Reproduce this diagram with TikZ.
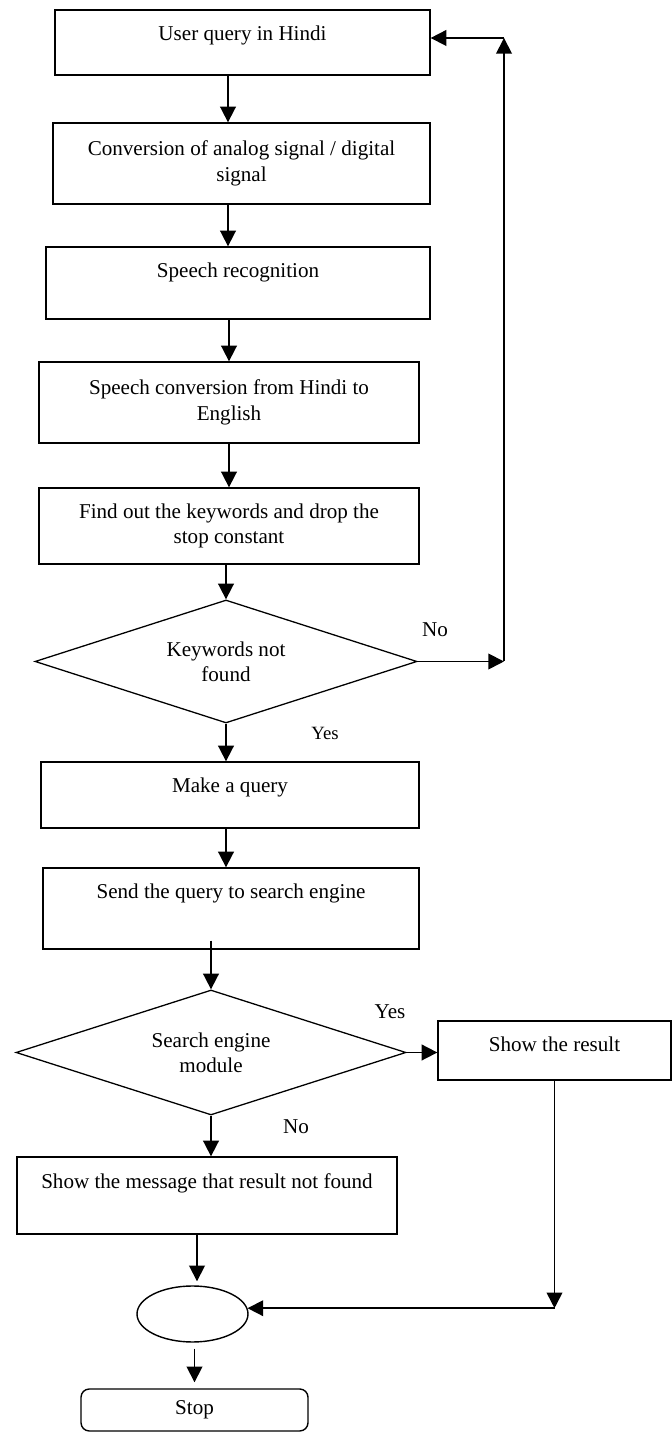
\documentclass[tikz,border=0pt]{standalone}
\usepackage{fontspec}
\setmainfont{Liberation Serif}
\usetikzlibrary{arrows.meta,positioning,shapes.geometric}

\begin{document}
\begin{tikzpicture}[
  x=1cm,y=1cm,
  font=\fontsize{18}{21.6}\selectfont,
  flow/.style={-{Triangle[length=0.47cm,width=0.47cm]},draw=black,line width=1.5pt},
  procbox/.style={draw=black,line width=1.1pt,align=center,inner sep=0pt},
  boxtext/.style={inner sep=0pt,align=center},
  decision/.style={diamond,draw=black,line width=1.1pt,aspect=3,
    align=center,inner sep=0pt},
  joint/.style={ellipse,draw=black,line width=1.2pt,inner sep=0pt},
  endbox/.style={draw=black,line width=1.2pt,rounded corners=0.25cm,inner sep=0pt},
  lbl/.style={inner sep=0pt}
]
  \useasboundingbox (0,0) rectangle (20.16,42.99);

  \node[procbox,minimum width=11.25cm,minimum height=1.95cm] (query)
    at (7.275,41.715) {};
  \node[boxtext,below=0.5cm of query.north] (queryt) {User query in Hindi};
  \node[procbox,minimum width=11.31cm,minimum height=2.43cm] (convert)
    at (7.245,38.085) {Conversion of analog signal / digital\\signal};
  \node[procbox,minimum width=11.52cm,minimum height=2.16cm] (recog)
    at (7.14,34.5) {};
  \node[boxtext,below=0.5cm of recog.north] (recogt) {Speech recognition};
  \node[procbox,minimum width=11.4cm,minimum height=2.43cm] (translate)
    at (6.87,30.915) {Speech conversion from Hindi to\\English};
  \node[procbox,minimum width=11.4cm,minimum height=2.28cm] (keywords)
    at (6.87,27.21) {Find out the keywords and drop the\\stop constant};
  \node[decision,minimum width=11.46cm,minimum height=3.69cm] (found)
    at (6.78,23.145) {Keywords not\\found};
  \node[procbox,minimum width=11.34cm,minimum height=1.98cm] (makeq)
    at (6.9,19.14) {};
  \node[boxtext,below=0.5cm of makeq.north] (makeqt) {Make a query};
  \node[procbox,minimum width=11.28cm,minimum height=2.43cm] (send)
    at (6.93,15.735) {};
  \node[boxtext,below=0.5cm of send.north] (sendt)
    {Send the query to search engine};
  \node[decision,minimum width=11.7cm,minimum height=3.75cm] (engine)
    at (6.33,11.415) {Search engine\\module};
  \node[procbox,minimum width=6.99cm,minimum height=1.77cm] (result)
    at (16.635,11.475) {};
  \node[boxtext,below=0.5cm of result.north] (resultt) {Show the result};
  \node[procbox,minimum width=11.4cm,minimum height=2.31cm] (notfound)
    at (6.21,7.125) {};
  \node[boxtext,below=0.5cm of notfound.north] (notfoundt)
    {Show the message that result not found};
  \node[joint,minimum width=3.33cm,minimum height=1.68cm] (join)
    at (5.775,3.57) {};
  \node[endbox,minimum width=6.81cm,minimum height=1.26cm] (stop)
    at (5.835,0.69) {Stop};

  \draw[flow] ([xshift=-0.435cm]query.south) --
    ([xshift=-0.435cm]query.south |- convert.north);
  \draw[flow] ([xshift=-0.405cm]convert.south) --
    ([xshift=-0.405cm]convert.south |- recog.north);
  \draw[flow] (recog.south -| translate.north) -- (translate.north);
  \draw[flow] (translate.south) -- (keywords.north);
  \draw[flow] (keywords.south -| found.north) -- (found.north);
  \draw[flow] (found.south) -- (found.south |- makeq.north);
  \draw[flow] (found.south |- makeq.south) -- (found.south |- send.north);
  \draw[flow] ([yshift=0.27cm]send.south -| engine.north) -- (engine.north);
  \draw[flow] (engine.south) -- (engine.south |- notfound.north);
  \draw[flow,shorten >=0.12cm] ([xshift=-0.3cm]notfound.south) --
    ([xshift=-0.3cm]notfound.south |- join.north);
  \draw[flow,shorten <=0.18cm,shorten >=0.18cm]
    (join.south -| stop.north) -- (stop.north);

  % keywords not found: back to the query
  \coordinate (looptop) at (15.12,41.85);
  \coordinate (loopbot) at (found.east -| looptop);
  \draw[flow] (found.east) -- (loopbot);
  \draw[flow] (loopbot) -- (looptop);
  \draw[flow] (looptop) -- (looptop -| query.east);

  \draw[flow] (engine.east) -- (engine.east -| result.west);
  \coordinate (rescorner) at (join.6 -| result.south);
  \draw[flow] (result.south) -- (rescorner);
  \draw[flow] (rescorner) -- (join.6);

  \node[lbl] (no1) at (13.05,24.09) {No};
  \node[lbl,font=\fontsize{16}{19}\selectfont] (yes1) at (9.75,21.0) {Yes};
  \node[lbl] (yes2) at (11.7,12.63) {Yes};
  \node[lbl] (no2) at (8.88,9.18) {No};
\end{tikzpicture}
\end{document}
